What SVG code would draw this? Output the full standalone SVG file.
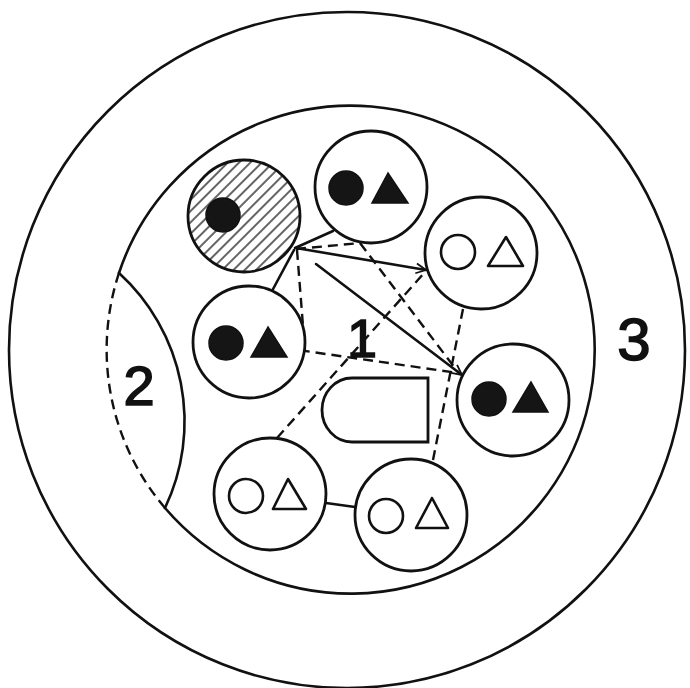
<svg xmlns="http://www.w3.org/2000/svg" width="690" height="688" viewBox="0 0 690 688">
<style>
.ln{fill:none;stroke:#111;stroke-width:2.6;stroke-linecap:round}
.ds{fill:none;stroke:#111;stroke-width:2.4;stroke-dasharray:10 6}
.nd{fill:#fff;stroke:#111;stroke-width:2.8}
.blk{fill:#151515;stroke:#111;stroke-width:1.5}
.opn{fill:none;stroke:#111;stroke-width:2.6;stroke-linejoin:round}
.lbl{font-family:"Liberation Sans",Arial,sans-serif;fill:#111;stroke:#111;stroke-width:1.6;text-anchor:middle}
</style>
<defs>
<pattern id="hatch" width="8" height="8" patternUnits="userSpaceOnUse" patternTransform="rotate(-45)">
<rect width="8" height="8" fill="#fff"/>
<line x1="0" y1="4" x2="8" y2="4" stroke="#111" stroke-width="1.3"/>
</pattern>
<marker id="arr" viewBox="0 0 12 12" refX="11" refY="6" markerWidth="12" markerHeight="12" markerUnits="userSpaceOnUse" orient="auto">
<path d="M1,1 L11,6 L1,11" fill="none" stroke="#111" stroke-width="1.8"/>
</marker>
</defs>
<rect width="690" height="688" fill="#fff"/>
<g id="region3">
<circle cx="347" cy="350" r="338" class="ln" stroke-width="2.8"/>
<text class="lbl" x="634" y="360" font-size="60">3</text>
</g>
<g id="region1">
<path d="M119,273 A244,244 0 1 1 165,508" class="ln" stroke-width="2.8"/>
<path d="M165,508 A244,244 0 0 1 119,273" class="ds" stroke-width="2.6"/>
<text class="lbl" x="362" y="357" font-size="54">1</text>
</g>
<g id="region2">
<path d="M119,273 A201,201 0 0 1 165,508" class="ln" stroke-width="2.8"/>
<text class="lbl" x="139" y="405" font-size="56">2</text>
</g>
<g id="connectors">
<line x1="295" y1="248" x2="333" y2="231" class="ln"/>
<line x1="294" y1="250" x2="272" y2="291" class="ln"/>
<line x1="296" y1="248" x2="426" y2="270" class="ln" marker-end="url(#arr)"/>
<line x1="316" y1="264" x2="462" y2="375" class="ln" marker-end="url(#arr)"/>
<polyline points="296,249 360,243" class="ds"/>
<line x1="360" y1="243" x2="458" y2="372" class="ds"/>
<polyline points="297,250 305,351 458,373" class="ds"/>
<line x1="277" y1="438" x2="425" y2="272" class="ds"/>
<line x1="463" y1="309" x2="433" y2="460" class="ds"/>
<line x1="326" y1="503" x2="355" y2="507" class="ln"/>
</g>
<g id="node-hatched">
<circle cx="244" cy="216" r="56" fill="url(#hatch)" stroke="#111" stroke-width="2.8"/>
<circle cx="223" cy="215" r="17" class="blk"/>
</g>
<g id="node-top">
<circle cx="371" cy="187" r="56" class="nd"/>
<circle cx="346" cy="188" r="17" class="blk"/>
<polygon points="388,173 372,203 408,203" class="blk"/>
</g>
<g id="node-right-top">
<circle cx="481" cy="253" r="56" class="nd"/>
<circle cx="458" cy="252" r="17" class="opn"/>
<polygon points="506,237 488,266 523,266" class="opn"/>
</g>
<g id="node-left">
<circle cx="249" cy="342" r="56" class="nd"/>
<circle cx="226" cy="343" r="17" class="blk"/>
<polygon points="268,327 251,357 287,357" class="blk"/>
</g>
<g id="node-right">
<circle cx="513" cy="400" r="56" class="nd"/>
<circle cx="489" cy="399" r="17" class="blk"/>
<polygon points="531,382 513,412 548,412" class="blk"/>
</g>
<g id="node-bottom-left">
<circle cx="270" cy="494" r="56" class="nd"/>
<circle cx="246" cy="496" r="17" class="opn"/>
<polygon points="288,479 273,509 306,509" class="opn"/>
</g>
<g id="node-bottom-right">
<circle cx="411" cy="515" r="56" class="nd"/>
<circle cx="386" cy="516" r="17" class="opn"/>
<polygon points="432,498 416,528 448,528" class="opn"/>
</g>
<g id="node-obstacle">
<path d="M428,378 H352 A30,32 0 0 0 352,442 H428 Z" class="nd"/>
</g>
</svg>
